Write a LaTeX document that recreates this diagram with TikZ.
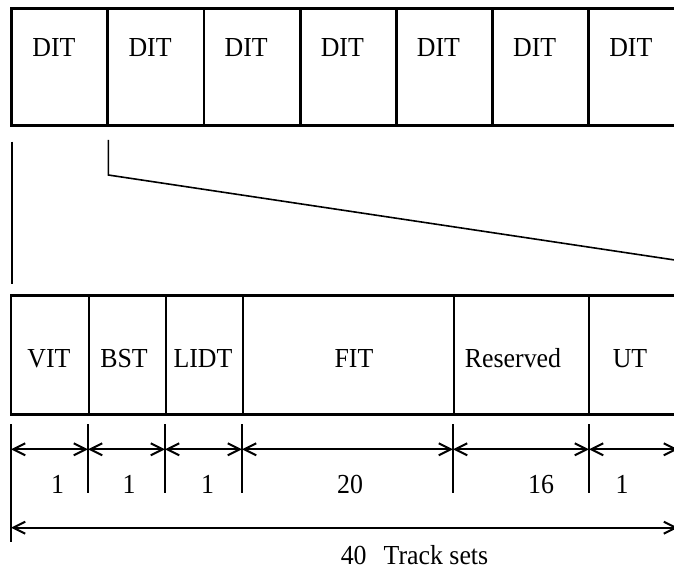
\documentclass[tikz,border=0pt]{standalone}
\usepackage{fontspec}
\setmainfont{Liberation Serif}[FakeStretch=0.94]
\usetikzlibrary{arrows.meta}
\begin{document}
\begin{tikzpicture}[x=1pt,y=-1pt,
  cell/.style={draw, line width=2.8pt, rectangle, inner sep=0pt, outer sep=0pt},
  txt/.style={inner sep=0pt, outer sep=0pt, anchor=base, font=\fontsize{27.5pt}{32pt}\selectfont},
  link/.style={line width=1.6pt},
  ext/.style={line width=1.4pt},
  dim/.style={line width=2pt, {Straight Barb[length=12pt,width=12pt]}-{Straight Barb[length=12pt,width=12pt]}}
]
\useasboundingbox (0,0) rectangle (674,577);
\clip (0,0) rectangle (674,577);

% top row of DIT cells
\foreach \i in {1,...,7}{
  \node[cell, minimum width=96.15pt, minimum height=117.4pt] (d\i) at ({11.7+96.15*(\i-0.5)},67) {};
  \node[txt] (t\i) at ({11.7+96.15*(\i-1)+42.2},56.8) {DIT};
}

% bottom row cells
\node[cell, minimum width=78pt,  minimum height=118.6pt] (vit) at (50,355) {};
\node[cell, minimum width=77pt,  minimum height=118.6pt] (bst) at (127.5,355) {};
\node[cell, minimum width=77pt,  minimum height=118.6pt] (lidt) at (204.5,355) {};
\node[cell, minimum width=211pt, minimum height=118.6pt] (fit) at (348.5,355) {};
\node[cell, minimum width=135pt, minimum height=118.6pt] (res) at (521.5,355) {};
\node[cell, minimum width=101pt, minimum height=118.6pt] (ut) at (639.5,355) {};

\node[txt] (lvit) at (49,367.3) {VIT};
\node[txt] (lbst) at (124,367.3) {BST};
\node[txt] (llidt) at (203,367.3) {LIDT};
\node[txt] (lfit) at (354,367.3) {FIT};
\node[txt] (lres) at (513,367.3) {Reserved};
\node[txt] (lut) at (630,367.3) {UT};

% expansion connectors
\coordinate (c1top) at (12,141.7);
\coordinate (c1bot) at (12,284);
\coordinate (c2top) at (108.3,140);
\coordinate (c2bend) at (108.3,175);
\coordinate (c2end) at (684.7,261.5);
\draw[link] (c1top) -- (c1bot);
\draw[link] (c2top) -- (c2bend) -- (c2end);

% extension lines
\coordinate (e0t) at (11,424);  \coordinate (e0b) at (11,542);
\coordinate (e1t) at (88,424);  \coordinate (e1b) at (88,493);
\coordinate (e2t) at (165,424); \coordinate (e2b) at (165,493);
\coordinate (e3t) at (242,424); \coordinate (e3b) at (242,493);
\coordinate (e4t) at (453,424); \coordinate (e4b) at (453,493);
\coordinate (e5t) at (589,424); \coordinate (e5b) at (589,493);
\foreach \k in {0,...,5}{ \draw[ext] (e\k t) -- (e\k b); }

% dimension arrows
\coordinate (a0) at (11,449.3);
\coordinate (a1) at (88,449.3);
\coordinate (a2) at (165,449.3);
\coordinate (a3) at (242,449.3);
\coordinate (a4) at (453,449.3);
\coordinate (a5) at (589,449.3);
\coordinate (a6) at (678,449.3);
\draw[dim] (a0) -- (a1);
\draw[dim] (a1) -- (a2);
\draw[dim] (a2) -- (a3);
\draw[dim] (a3) -- (a4);
\draw[dim] (a4) -- (a5);
\draw[dim] (a5) -- (a6);

\coordinate (b0) at (11,527.7);
\coordinate (b1) at (678,527.7);
\draw[dim] (b0) -- (b1);

% dimension labels
\node[txt] (n1) at (57.5,493.3) {1};
\node[txt] (n2) at (129,493.3) {1};
\node[txt] (n3) at (207.5,493.3) {1};
\node[txt] (n4) at (350,493.3) {20};
\node[txt] (n5) at (541,493.3) {16};
\node[txt] (n6) at (622,493.3) {1};
\node[txt] (total) at (414.5,564) {40\hspace{17pt}Track sets};
\end{tikzpicture}
\end{document}
